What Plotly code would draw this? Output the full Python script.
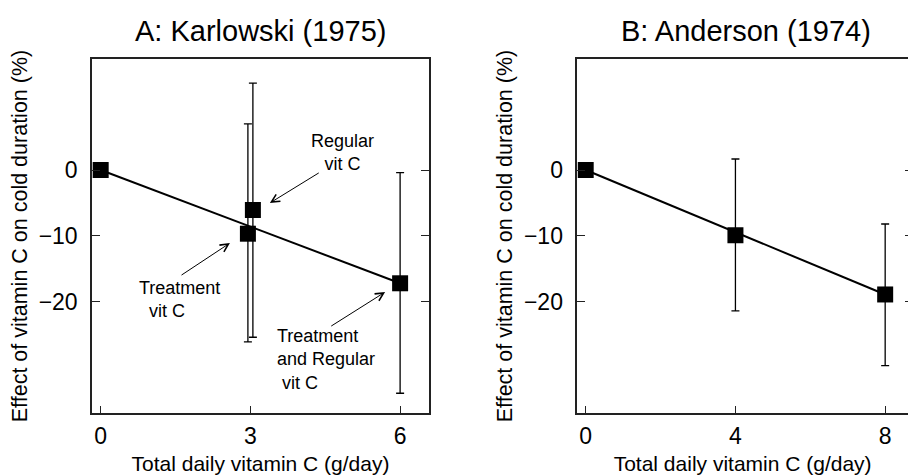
import plotly.graph_objects as go

# ---- Panel A: Karlowski (1975) ----
a_x = [0, 2.95, 3.05, 6]
a_y = [0, -9.67, -6.07, -17.2]
a_err_hi = [None, 7.0, 13.2, -0.4]     # upper end of CI
a_err_lo = [None, -26.1, -25.4, -33.9]  # lower end of CI
a_fit_x = [0, 6]
a_fit_y = [0, -17.2]

# ---- Panel B: Anderson (1974) ----
b_x = [0, 4, 8]
b_y = [0, -9.9, -18.9]
b_err_hi = [None, 1.67, -8.2]
b_err_lo = [None, -21.4, -29.7]
b_fit_x = [0, 8]
b_fit_y = [0, -18.9]

a_xticks = [0, 3, 6]
b_xticks = [0, 4, 8]
yticks = [0, -10, -20]
yticklabels = ["0", "\u221210", "\u221220"]

titles = ["A: Karlowski (1975)", "B: Anderson (1974)"]
xtitle = "Total daily vitamin C (g/day)"
ytitle = "Effect of vitamin C on cold duration (%)"

FONT = "Liberation Sans, Arial, Helvetica, sans-serif"


def errs(y, hi, lo):
    plus = [0 if h is None else h - v for v, h in zip(y, hi)]
    minus = [0 if l is None else v - l for v, l in zip(y, lo)]
    vis = [h is not None for h in hi]
    return plus, minus, vis


fig = go.Figure()

# fit lines
fig.add_trace(go.Scatter(x=a_fit_x, y=a_fit_y, mode="lines",
                         line=dict(color="black", width=2), xaxis="x", yaxis="y",
                         showlegend=False, hoverinfo="skip"))
fig.add_trace(go.Scatter(x=b_fit_x, y=b_fit_y, mode="lines",
                         line=dict(color="black", width=2), xaxis="x2", yaxis="y2",
                         showlegend=False, hoverinfo="skip"))

# points with error bars
for xs, ys, hi, lo, xa, ya in [(a_x, a_y, a_err_hi, a_err_lo, "x", "y"),
                               (b_x, b_y, b_err_hi, b_err_lo, "x2", "y2")]:
    plus, minus, vis = errs(ys, hi, lo)
    ex = [x for x, v in zip(xs, vis) if v]
    ey = [y for y, v in zip(ys, vis) if v]
    ep = [p for p, v in zip(plus, vis) if v]
    em = [m for m, v in zip(minus, vis) if v]
    fig.add_trace(go.Scatter(x=ex, y=ey, mode="markers",
                             marker=dict(size=1, color="rgba(0,0,0,0)"),
                             error_y=dict(type="data", symmetric=False, array=ep, arrayminus=em,
                                          color="black", thickness=1.3, width=4),
                             xaxis=xa, yaxis=ya, showlegend=False, hoverinfo="skip"))
    fig.add_trace(go.Scatter(x=xs, y=ys, mode="markers",
                             marker=dict(symbol="square", size=16, color="black",
                                         line=dict(width=0)),
                             xaxis=xa, yaxis=ya, showlegend=False))

# invisible trace for right-side tick axis of panel B
fig.add_trace(go.Scatter(x=[None], y=[None], xaxis="x2", yaxis="y3", showlegend=False))

yrange = [-36.9, 16.86]
axis_common = dict(showgrid=False, zeroline=False, showline=True, linecolor="#222",
                   linewidth=1.5, ticks="inside", tickcolor="#222", tickwidth=1.3,
                   tickfont=dict(size=23, color="black", family=FONT))

fig.update_layout(
    width=908, height=475,
    margin=dict(l=0, r=0, t=59, b=62),
    paper_bgcolor="white", plot_bgcolor="white",
    font=dict(family=FONT, color="black"),
    xaxis=dict(domain=[92 / 908, 429 / 908], range=[-0.174, 6.579], tickvals=a_xticks,
               mirror=True, ticklen=7, anchor="y", ticklabelstandoff=2,
               title=dict(text=xtitle, font=dict(size=21), standoff=9), **axis_common),
    yaxis=dict(domain=[0, 1], range=yrange, tickvals=yticks, ticktext=yticklabels,
               mirror="ticks", ticklen=8, anchor="x", ticklabelstandoff=8,
               title=dict(text=ytitle, font=dict(size=21.5), standoff=5), **axis_common),
    xaxis2=dict(domain=[577.3 / 908, 1.0], range=[-0.2245, 8.61], tickvals=b_xticks,
                mirror=True, ticklen=7, anchor="y2", ticklabelstandoff=2,
                title=dict(text=xtitle, font=dict(size=21), standoff=9), **axis_common),
    yaxis2=dict(domain=[0, 1], range=yrange, tickvals=yticks, ticktext=yticklabels,
                mirror=False, ticklen=8, anchor="x2", ticklabelstandoff=8,
                title=dict(text=ytitle, font=dict(size=21.5), standoff=5), **axis_common),
    yaxis3=dict(overlaying="y2", side="right", anchor="free", position=1.0, range=yrange,
                tickvals=yticks, ticks="inside", ticklen=3, tickwidth=1.3, tickcolor="#222",
                showticklabels=False, showline=False, showgrid=False, zeroline=False),
)

# panel titles
for txt, px in zip(titles, [260.5, 745.7]):
    fig.add_annotation(text=txt, xref="paper", yref="paper", x=px / 908, y=1 + 28 / 354,
                       xanchor="center", yanchor="middle", showarrow=False,
                       font=dict(size=29, family=FONT, color="black"))

# annotation texts (panel A)
ann_font = dict(size=18, family=FONT, color="black")
fig.add_annotation(text="Regular<br>vit C", x=4.84, y=2.73, xref="x", yref="y",
                   showarrow=False, align="center", xanchor="center", yanchor="middle",
                   font=ann_font)
fig.add_annotation(text="Treatment<br>\u00a0\u00a0vit C", x=0.73, y=-19.6, xref="x", yref="y",
                   showarrow=False, align="left", xanchor="left", yanchor="middle",
                   font=ann_font)
fig.add_annotation(text="Treatment<br>and Regular<br>\u00a0vit C", x=3.49, y=-28.85,
                   xref="x", yref="y", showarrow=False, align="left", xanchor="left",
                   yanchor="middle", font=ann_font)

# arrows (head -> tail)
for hx, hy, tx, ty in [(3.39, -5.01, 4.40, -0.30),
                       (2.59, -11.09, 1.59, -16.1),
                       (5.70, -18.53, 4.59, -23.84)]:
    fig.add_annotation(text="", x=hx, y=hy, ax=tx, ay=ty, xref="x", yref="y",
                       axref="x", ayref="y", showarrow=True, arrowhead=5,
                       arrowsize=1.6, arrowwidth=1, arrowcolor="black", standoff=0)

fig.write_html("out.html", config={"displayModeBar": False},
               post_script="document.body.style.margin='0';document.body.style.overflow='hidden';")
